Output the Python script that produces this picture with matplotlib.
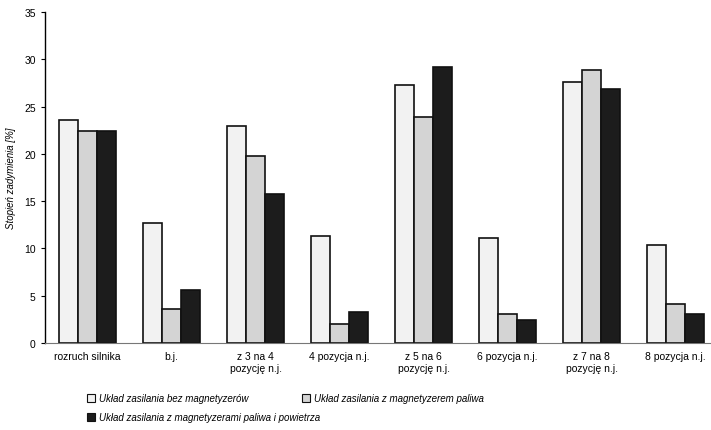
import numpy as np
import matplotlib
matplotlib.use("Agg")
import matplotlib.pyplot as plt
from matplotlib.patches import Patch

plt.rcParams['font.family'] = ['Liberation Sans', 'DejaVu Sans']

categories = ["rozruch silnika", "b.j.", "z 3 na 4\npozycję n.j.", "4 pozycja n.j.",
              "z 5 na 6\npozycję n.j.", "6 pozycja n.j.", "z 7 na 8\npozycję n.j.", "8 pozycja n.j."]
bez_magnetyzerow = [23.6, 12.7, 22.9, 11.3, 27.3, 11.1, 27.6, 10.4]
magnetyzer_paliwa = [22.4, 3.6, 19.8, 2.0, 23.9, 3.1, 28.9, 4.1]
magnetyzery_paliwa_powietrza = [22.4, 5.6, 15.7, 3.3, 29.2, 2.4, 26.9, 3.1]
labels = ["Układ zasilania bez magnetyzerów",
          "Układ zasilania z magnetyzerem paliwa",
          "Układ zasilania z magnetyzerami paliwa i powietrza"]

fig = plt.figure(figsize=(7.11, 4.31), dpi=100)
ax = fig.add_axes([0.063, 0.202, 0.937, 0.768])

x = np.arange(len(categories))
w = 0.225
colors = ['#f2f2f2', '#d4d4d4', '#1c1c1c']
series = [bez_magnetyzerow, magnetyzer_paliwa, magnetyzery_paliwa_powietrza]
for i, (vals, c) in enumerate(zip(series, colors)):
    ax.bar(x + (i - 1) * w, vals, w, color=c, edgecolor='#111111', linewidth=1.2)

ax.set_ylim(0, 35)
ax.set_xlim(-0.51, 7.42)
ax.set_yticks(np.arange(0, 36, 5))
ax.set_xticks(x)
ax.set_xticklabels(categories, fontsize=7.5)
ax.tick_params(axis='x', length=0, pad=6)
ax.tick_params(axis='y', labelsize=7.5, length=3, direction='out', width=0.8)
ax.spines['top'].set_visible(False)
ax.spines['right'].set_visible(False)
ax.spines['left'].set_linewidth(1.0)
ax.spines['bottom'].set_color('#777777')
ax.spines['bottom'].set_linestyle((0, (2, 1)))
ax.set_ylabel("Stopień zadymienia [%]", fontsize=7, style='italic', labelpad=6)

handles = [Patch(facecolor=c, edgecolor='#111111', linewidth=0.8) for c in colors]
leg_kw = dict(loc='upper left', frameon=False, prop={'size': 7, 'style': 'italic'},
              handlelength=0.8, handleheight=0.8, handletextpad=0.4, labelspacing=0.9)
leg1 = fig.legend([handles[0], handles[2]], [labels[0], labels[2]],
                  bbox_to_anchor=(0.11, 0.105), **leg_kw)
fig.legend([handles[1]], [labels[1]], bbox_to_anchor=(0.413, 0.105), **leg_kw)

fig.savefig("out.png", dpi=100)
